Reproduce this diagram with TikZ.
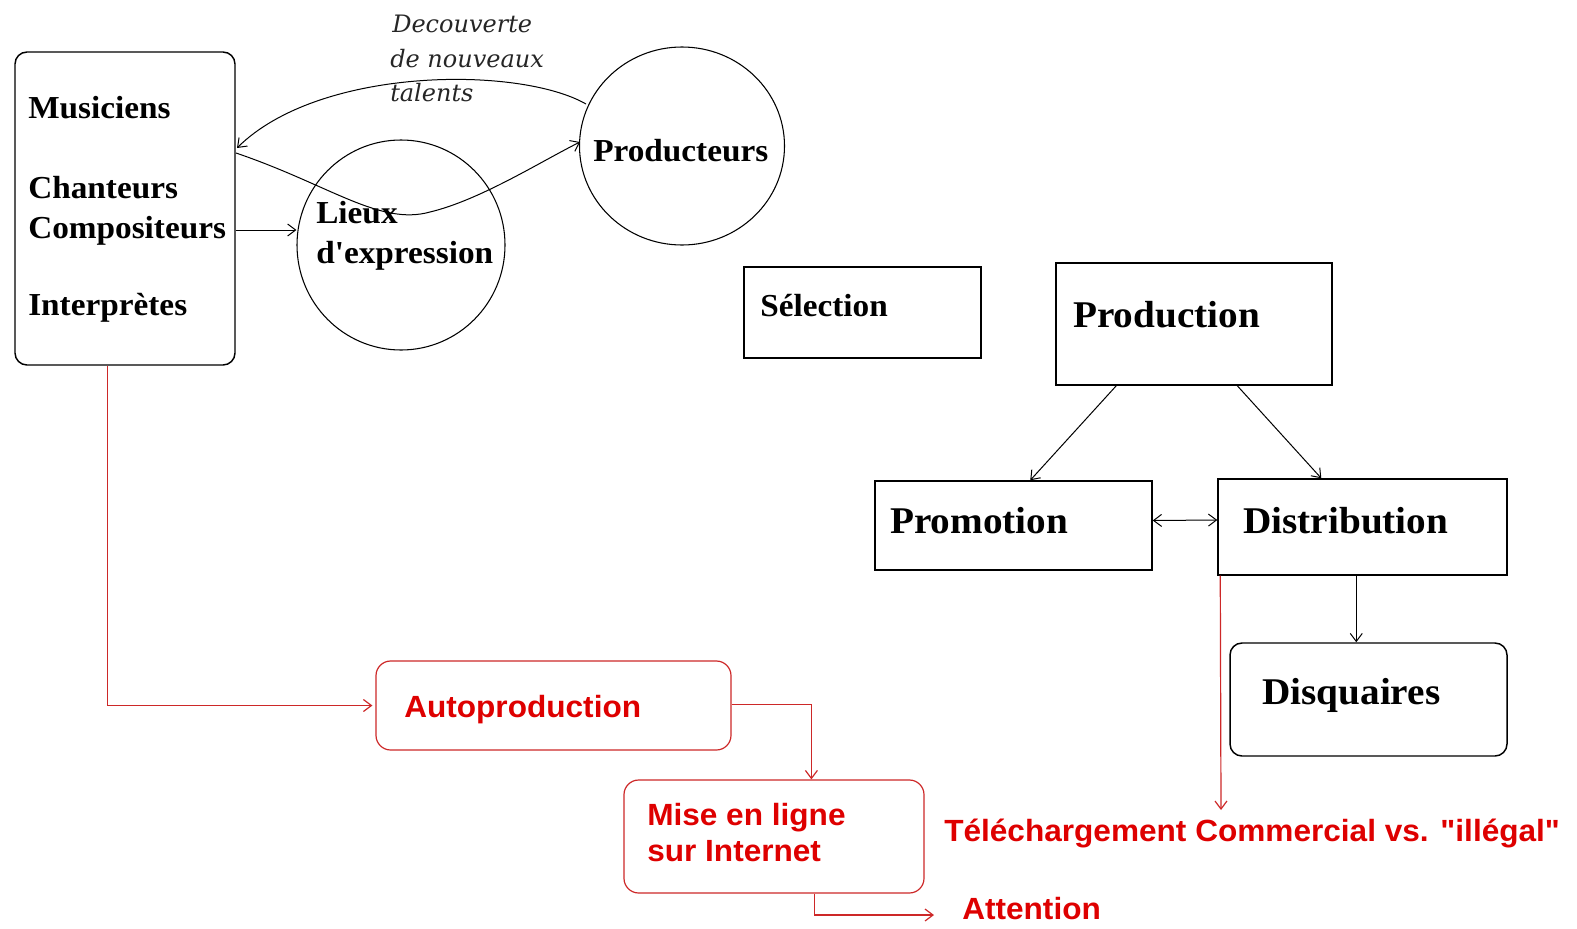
\documentclass[tikz,border=0pt]{standalone}
\usepackage{fontspec}
\setmainfont{Liberation Serif}
\newfontfamily\serifst[FakeStretch=1.04]{Liberation Serif}
\newfontfamily\sansst[FakeStretch=1.03]{Liberation Sans}
\newfontfamily\italst{DejaVu Serif}
\usetikzlibrary{arrows.meta,fit,calc,shapes.geometric}
\definecolor{redtxt}{RGB}{222,0,0}
\definecolor{redln}{RGB}{205,40,40}
\tikzset{
  box/.style={draw=black, line width=1.1pt, inner sep=0pt},
  rbox/.style={draw=black, line width=1.1pt, inner sep=0pt, rounded corners=9pt},
  redbox/.style={draw=redln, line width=0.9pt, inner sep=0pt, rounded corners=11pt},
  circ/.style={draw=black, line width=0.8pt, ellipse, inner sep=0pt},
  lbl/.style={anchor=base west, inner sep=0pt, font=\serifst\bfseries\fontsize{24}{28}\selectfont},
  biglbl/.style={anchor=base west, inner sep=0pt, font=\serifst\bfseries\fontsize{28.3}{32}\selectfont},
  redlbl/.style={anchor=base west, inner sep=0pt, text=redtxt, font=\sansst\bfseries\fontsize{23}{27}\selectfont},
  itlbl/.style={anchor=base west, inner sep=0pt, text=black!85, font=\italst\itshape\fontsize{18}{26}\selectfont},
  conn/.style={draw=black, line width=0.75pt, -{Straight Barb[length=6pt,width=9pt]}},
  rconn/.style={draw=redln, line width=0.9pt, -{Straight Barb[length=6pt,width=9pt]}},
}
\begin{document}
\begin{tikzpicture}[x=0.75pt,y=-0.75pt]
\useasboundingbox (0,0) rectangle (1577,928);
% left box
\node[rbox, fit={(15,52)(235,365)}] (left) {};
\node[lbl] (tmus) at (28,118) {Musiciens};
\node[lbl] (tcha) at (28,198) {Chanteurs};
\node[lbl] (tcom) at (28,238) {Compositeurs};
\node[lbl] (tint) at (28,315) {Interprètes};
% circles
\node[circ, minimum width=156pt, minimum height=157.5pt] (lieux) at (401,245) {};
\node[lbl] (tlieux1) at (316,223) {Lieux};
\node[lbl] (tlieux2) at (316,263) {d'expression};
\node[circ, minimum width=153.75pt, minimum height=148.5pt] (prod) at (682,146) {};
\node[lbl] (tprod) at (593,161) {Producteurs};
% italic label
\node[itlbl] (dec1) at (392,32) {Decouverte};
\node[itlbl] (dec2) at (390,67) {de nouveaux};
\node[itlbl] (dec3) at (390,101) {talents};
% curves
\coordinate (l1) at (237,148);
\coordinate (l2) at (236,153);
\coordinate (p1) at (586,104);
\coordinate (p2) at (580,142);
\draw[conn] (p1) .. controls (520,66) and (320,66) .. (l1);
\draw[conn] (l2) .. controls (330,185) and (380,226) .. (430,212) .. controls (480,200) and (540,162) .. (p2);
\draw[conn] (left.east |- 0,230) -- (lieux.west |- 0,230);
% right black boxes
\node[box, fit={(744,267)(981,358)}] (sel) {};
\node[lbl] (tsel) at (760,316) {Sélection};
\node[box, fit={(1056,263)(1332,385)}] (production) {};
\node[biglbl] (tproduction) at (1073,327) {Production};
\node[box, fit={(875,481)(1152,570)}] (promo) {};
\node[biglbl] (tpromo) at (890,533) {Promotion};
\node[box, fit={(1218,479)(1507,575)}] (dist) {};
\node[biglbl] (tdist) at (1243,533) {Distribution};
\node[rbox, fit={(1230,643)(1507,756)}] (disq) {};
\node[biglbl] (tdisq) at (1262,704) {Disquaires};
\draw[conn] ($(production.south west)+(61,0)$) -- ($(promo.north west)+(156,0)$);
\draw[conn] ($(production.south west)+(182,0)$) -- ($(dist.north west)+(104,0)$);
\draw[draw=black, line width=0.75pt, {Straight Barb[length=6pt,width=9pt]}-{Straight Barb[length=6pt,width=9pt]}] ($(promo.east)+(0,-5)$) -- ($(dist.west)+(0,-7)$);
\draw[conn] ($(dist.south west)+(139,0)$) -- ($(disq.north west)+(127,0)$);
% red part
\node[redbox, fit={(376,661)(731,750)}] (auto) {};
\node[redlbl] (tauto) at (404,717) {Autoproduction};
\node[redbox, fit={(624,780)(924,893)}] (mise) {};
\node[redlbl] (tmise1) at (647,825) {Mise en ligne};
\node[redlbl] (tmise2) at (647,861) {sur Internet};
\node[redlbl] (ttel) at (944,841) {Téléchargement Commercial vs. "illégal"};
\node[redlbl] (tatt) at (962,919) {Attention};
\draw[rconn] ($(left.south west)+(93,0)$) |- ($(auto.west)+(-3,0)$);
\draw[rconn] ($(auto.east)+(0,-1)$) -| ($(mise.north west)+(188,0)$);
\coordinate (attend) at (934,915);
\draw[rconn] ($(mise.south west)+(191,0)$) |- (attend);
\coordinate (telend) at (1221,810);
\draw[rconn] ($(dist.south west)+(3,0)$) -- (telend);
\end{tikzpicture}
\end{document}
